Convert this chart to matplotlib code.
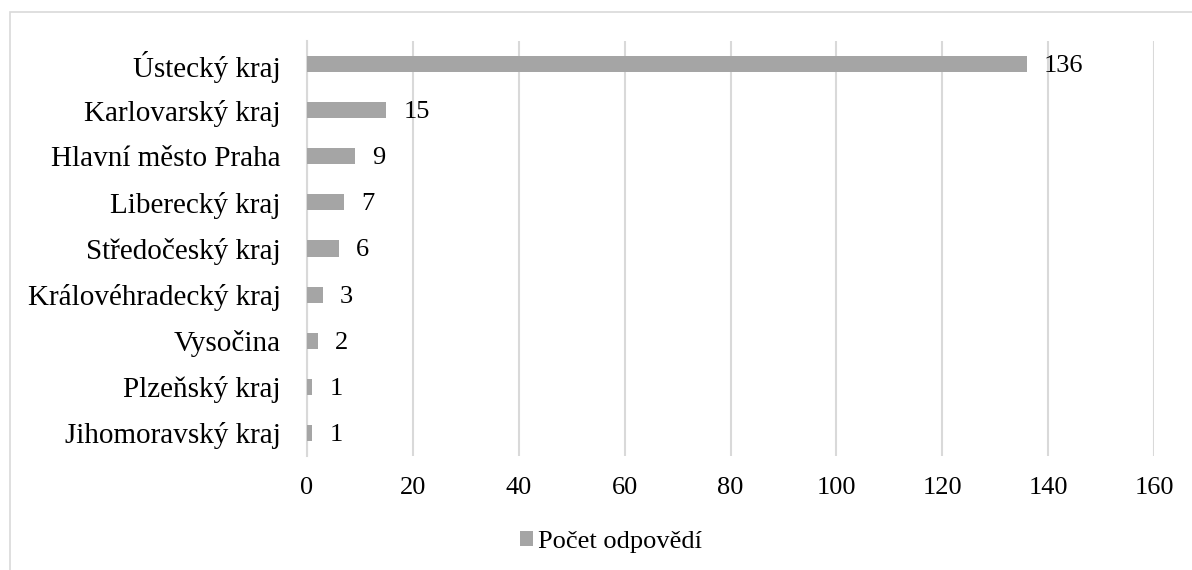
import matplotlib.pyplot as plt
from matplotlib.patches import Rectangle

# data
regions = ["Ústecký kraj", "Karlovarský kraj", "Hlavní město Praha", "Liberecký kraj",
           "Středočeský kraj", "Královéhradecký kraj", "Vysočina", "Plzeňský kraj",
           "Jihomoravský kraj"]
counts = [136, 15, 9, 7, 6, 3, 2, 1, 1]
series_name = "Počet odpovědí"
x_ticks = [0, 20, 40, 60, 80, 100, 120, 140, 160]

plt.rcParams['font.family'] = ['Liberation Serif', 'DejaVu Serif']

fig = plt.figure(figsize=(11.92, 5.70), dpi=100)
ax = fig.add_axes([307 / 1192, 1 - 456 / 570, (1154 - 307) / 1192, (456 - 41) / 570])

ypos = list(range(len(regions)))
bars = ax.barh(ypos, counts, height=0.35, color="#A5A5A5", label=series_name, zorder=3)
ax.set_ylim(len(regions) - 0.5, -0.5)
ax.set_xlim(0, 160)
ax.set_xticks(x_ticks)
ax.set_yticks(ypos)
ax.set_yticklabels(regions, fontsize=21)
ax.tick_params(axis="x", labelsize=19, length=0, pad=15)
ax.tick_params(axis="y", length=0, pad=19)
ax.grid(axis="x", color="#D9D9D9", linewidth=1.5, zorder=0)
for s in ["top", "right", "bottom"]:
    ax.spines[s].set_visible(False)
ax.spines["left"].set_color("#D9D9D9")
ax.spines["left"].set_linewidth(1.5)

# value labels next to bars
for b, v in zip(bars, counts):
    ax.annotate(str(v), (b.get_width(), b.get_y() + b.get_height() / 2),
                xytext=(17, -2), textcoords="offset pixels",
                va="center", ha="left", fontsize=19)

ax.legend(loc="center", bbox_to_anchor=(611 / 1192, 1 - 542 / 570), bbox_transform=fig.transFigure,
          frameon=False, fontsize=19, handlelength=0.5, handleheight=0.5, handletextpad=0.2)

# light frame around the chart area
fig.patches.append(Rectangle((10 / 1192, -0.1), 1.2, 1 - 12 / 570 + 0.1, transform=fig.transFigure,
                             fill=False, edgecolor="#D9D9D9", linewidth=1.2))

fig.savefig("out.png", dpi=100)
